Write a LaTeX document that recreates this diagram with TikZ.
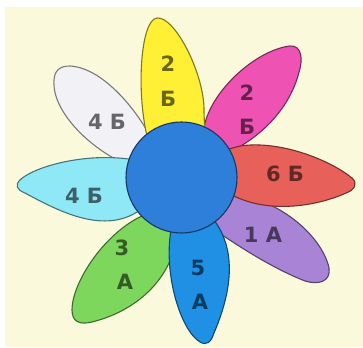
\documentclass[tikz,border=0pt]{standalone}
\usepackage{fontspec}
\newfontfamily\lblfont{DejaVu Sans}
\definecolor{cream}{HTML}{FBF9DC}
\definecolor{pyellow}{HTML}{FFF035}
\definecolor{ppink}{HTML}{EE52B2}
\definecolor{pred}{HTML}{E8605A}
\definecolor{ppurple}{HTML}{A983D6}
\definecolor{pblue}{HTML}{1F90E4}
\definecolor{pgreen}{HTML}{7DD75C}
\definecolor{pcyan}{HTML}{8EE8F6}
\definecolor{pwhite}{HTML}{F2F1F6}
\definecolor{pcenter}{HTML}{2E7FD9}
\begin{document}
\begin{tikzpicture}[x=1pt, y=-1pt, line width=1.1pt,
  petal/.style={draw=#1!50!black, fill=#1},
  lbl/.style={font=\lblfont\bfseries\fontsize{21}{25}\selectfont, text=#1!42!black, inner sep=0pt}]
  \useasboundingbox (0,0) rectangle (363,347);
  \fill[white] (0,0) rectangle (363,347);
  \fill[cream] (5,7) rectangle (363,347);
  % petals, back to front
  \draw[petal=pwhite] (140,170) .. controls (95,155) and (55,115) .. (54,85)
    .. controls (53,70) and (60,66) .. (70,66)
    .. controls (105,68) and (140,115) .. (152,140) -- cycle;
  \draw[petal=pcyan] (135,160) .. controls (90,152) and (38,165) .. (21,179)
    .. controls (14,185) and (17,190) .. (25,193)
    .. controls (60,212) and (105,235) .. (140,210) -- cycle;
  \draw[petal=pgreen] (152,212) .. controls (110,225) and (72,280) .. (72,310)
    .. controls (72,322) and (80,325) .. (92,322)
    .. controls (140,310) and (175,275) .. (178,228) -- cycle;
  \draw[petal=ppurple] (228,195) .. controls (275,195) and (322,235) .. (329,268)
    .. controls (331,282) and (318,285) .. (305,281)
    .. controls (272,268) and (238,246) .. (212,228) -- cycle;
  \draw[petal=ppink] (203,135) .. controls (205,95) and (255,50) .. (290,46)
    .. controls (302,45) and (303,60) .. (299,72)
    .. controls (290,108) and (262,136) .. (230,152) -- (215,160) -- cycle;
  \draw[petal=pred] (225,150) -- (240,146) .. controls (280,140) and (330,160) .. (352,178)
    .. controls (358,183) and (355,190) .. (346,193)
    .. controls (320,205) and (270,215) .. (232,195) -- cycle;
  \draw[petal=pblue] (172,225) .. controls (162,270) and (180,330) .. (200,342)
    .. controls (207,346) and (211,342) .. (214,333)
    .. controls (228,300) and (240,255) .. (214,220) -- cycle;
  \draw[petal=pyellow] (148,140) .. controls (136,95) and (140,20) .. (157,18)
    .. controls (175,16) and (205,75) .. (204,112) -- (205,140) -- cycle;
  % centre
  \draw[draw=pcenter!45!black, fill=pcenter] (181.5,177.5) circle[radius=55.5];
  % labels
  \node[lbl=pyellow] (yellowNum) at (168,64) {2};
  \node[lbl=pyellow] (yellowLet) at (168,99) {Б};
  \node[lbl=ppink] (pinkNum) at (247,93) {2};
  \node[lbl=ppink] (pinkLet) at (247,127) {Б};
  \node[lbl=pred] (redLbl) at (285,174) {6 Б};
  \node[lbl=ppurple] (purpleLbl) at (263,235) {1 А};
  \node[lbl=pblue] (blueNum) at (198,268) {5};
  \node[lbl=pblue] (blueLet) at (200,302) {А};
  \node[lbl=pgreen] (greenNum) at (122,248) {3};
  \node[lbl=pgreen] (greenLet) at (125,282) {А};
  \node[lbl=pcyan] (cyanLbl) at (84,196) {4 Б};
  \node[lbl=pwhite] (whiteLbl) at (107,122) {4 Б};
\end{tikzpicture}
\end{document}
